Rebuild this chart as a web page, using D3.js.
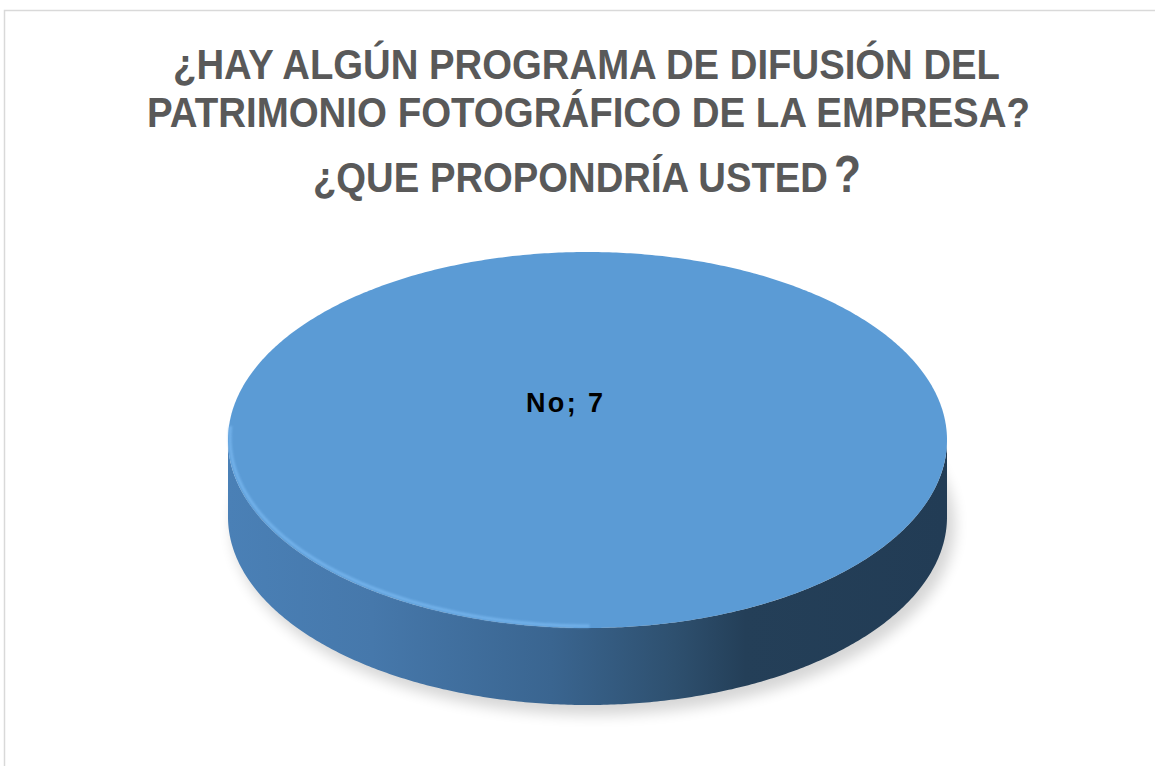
<!DOCTYPE html>
<html><head><meta charset="utf-8">
<script src="https://cdn.jsdelivr.net/npm/d3@7"></script>
<style>html,body{margin:0;padding:0;background:#fff;}svg{display:block;}</style>
</head><body>
<svg id="c" width="1155" height="766"></svg>
<script>
const titleLines = ["¿HAY ALGÚN PROGRAMA DE DIFUSIÓN DEL", "PATRIMONIO FOTOGRÁFICO DE LA EMPRESA?", "¿QUE PROPONDRÍA USTED"];
const titleTail = "?";
const categories = ["No"];
const values = [7];
const colors = ["#5B9BD5"];

const svg = d3.select("#c");
const defs = svg.append("defs");

// chart border
svg.append("rect").attr("x", 4.5).attr("y", 10.5).attr("width", 1170).attr("height", 780)
  .attr("fill", "#fff").attr("stroke", "#D9D9D9").attr("stroke-width", 1.5);

// title
const tf = '"Liberation Sans Narrow","Arial Narrow","Liberation Sans",Arial,sans-serif';
const tLayout = [{y: 79, x0: 173, x1: 1000, fs: 43}, {y: 127, x0: 147, x1: 1030, fs: 43}, {y: 192, x0: 313, x1: 828, fs: 43}];
titleLines.forEach((t, i) => {
  const L = tLayout[i];
  svg.append("text").attr("x", L.x0).attr("y", L.y)
    .attr("font-family", tf).attr("font-weight", "bold").attr("font-size", L.fs)
    .attr("fill", "#595959").text(t)
    .attr("textLength", L.x1 - L.x0).attr("lengthAdjust", "spacingAndGlyphs");
});
svg.append("text").attr("x", 834).attr("y", 192)
  .attr("font-family", tf).attr("font-weight", "bold").attr("font-size", 52)
  .attr("fill", "#595959").text(titleTail)
  .attr("textLength", 27).attr("lengthAdjust", "spacingAndGlyphs");

// 3D pie
const cx = 587.5, cy = 440, rx = 359.5, ry = 188, depth = 77;
const pie = d3.pie().sort(null).value(d => d)(values);
const pt = (a, dy = 0) => [cx + rx * Math.sin(a), cy - ry * Math.cos(a) + dy];

// shadow
const sh = defs.append("filter").attr("id", "sh").attr("x", "-20%").attr("y", "-20%").attr("width", "140%").attr("height", "140%");
sh.append("feGaussianBlur").attr("stdDeviation", 7);
svg.append("ellipse").attr("cx", cx + 6).attr("cy", cy + depth + 8).attr("rx", rx + 2).attr("ry", ry + 2)
  .attr("fill", "#000").attr("opacity", 0.16).attr("filter", "url(#sh)");

// side gradient
const sg = defs.append("linearGradient").attr("id", "side").attr("gradientUnits", "userSpaceOnUse")
  .attr("x1", cx - rx).attr("x2", cx + rx).attr("y1", 0).attr("y2", 0);
[[0, "#4A80B6"], [0.2, "#4678AB"], [0.45, "#3A6590"], [0.62, "#2E506F"], [0.72, "#243F58"], [1, "#223C55"]]
  .forEach(([o, c]) => sg.append("stop").attr("offset", o).attr("stop-color", c));

function arcPts(a0, a1, dy) {
  const n = Math.max(2, Math.ceil(Math.abs(a1 - a0) / 0.01));
  return d3.range(n + 1).map(i => pt(a0 + (a1 - a0) * i / n, dy));
}

pie.forEach((d, i) => {
  const s = Math.max(d.startAngle, Math.PI / 2), e = Math.min(d.endAngle, 3 * Math.PI / 2);
  if (e > s) {
    const top = arcPts(s, e, 0), bot = arcPts(e, s, depth);
    svg.append("path").attr("d", "M" + top.concat(bot).map(p => p.join(",")).join("L") + "Z")
      .attr("fill", "url(#side)");
  }
});

const blur = defs.append("filter").attr("id", "soft").attr("x", "-5%").attr("y", "-5%").attr("width", "110%").attr("height", "110%");
blur.append("feGaussianBlur").attr("stdDeviation", 1.2);

pie.forEach((d, i) => {
  const full = d.endAngle - d.startAngle >= 2 * Math.PI - 1e-9;
  const pts = arcPts(d.startAngle, d.endAngle, 0);
  const dPath = full ? "M" + pts.map(p => p.join(",")).join("L") + "Z"
    : "M" + [cx, cy].join(",") + "L" + pts.map(p => p.join(",")).join("L") + "Z";
  svg.append("path").attr("d", dPath).attr("fill", colors[i]);
  const hl = arcPts(Math.max(d.startAngle, Math.PI * 1.0), Math.min(d.endAngle, Math.PI * 1.52), 0)
    .map(p => [p[0] + 2, p[1] - 2]);
  svg.append("path").attr("d", "M" + hl.map(p => p.join(",")).join("L"))
    .attr("fill", "none").attr("stroke", "#79B8F0").attr("stroke-width", 3).attr("opacity", 0.8)
    .attr("filter", "url(#soft)");
  svg.append("text").attr("x", cx - 23).attr("y", cy - 28).attr("text-anchor", "middle")
    .attr("font-family", '"Liberation Sans",Arial,sans-serif').attr("font-weight", "bold")
    .attr("font-size", 27).attr("fill", "#000")
    .attr("textLength", 77).attr("lengthAdjust", "spacing")
    .text(categories[i] + ";  " + d.data);
});
</script>
</body></html>
